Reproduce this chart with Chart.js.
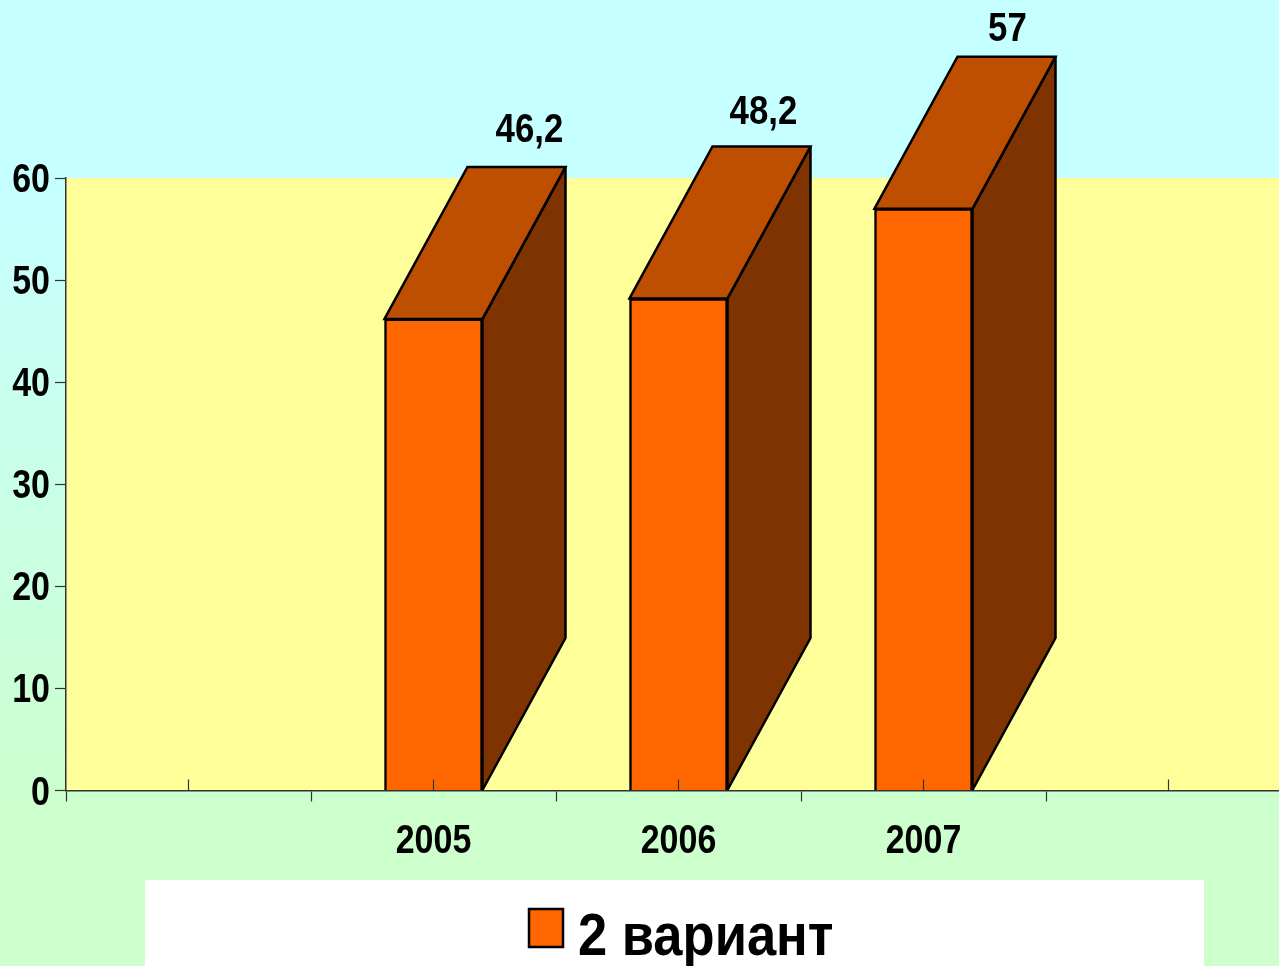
<!DOCTYPE html>
<html>
<head>
<meta charset="utf-8">
<style>
html,body{margin:0;padding:0;width:1279px;height:966px;overflow:hidden;background:linear-gradient(to bottom,#C6FFFF 0%,#C6FFFF 20%,#CCFFCC 85%,#CCFFCC 100%);}
#wrap{position:absolute;left:0;top:0;width:1304px;height:966px;}
</style>
<script src="https://cdn.jsdelivr.net/npm/chart.js@4/dist/chart.umd.min.js"></script>
</head>
<body>
<div id="wrap"><canvas id="c" width="1304" height="966"></canvas></div>
<script>
const categories = ['', '', '', '2005', '', '2006', '', '2007', '', '', ''];
const seriesName = '2 вариант';
const seriesValues = [null, null, null, 46.2, null, 48.2, null, 57, null, null, null];
const yTicks = [0, 10, 20, 30, 40, 50, 60];

const FONT = '"Liberation Sans",Arial,sans-serif';
const DEPTH_X = 83, DEPTH_Y = -152;
const LABEL_NUDGE = {3: [96, -39], 5: [85, -37], 7: [84, -30]};

// The reference face is a narrow bold sans: squeeze text horizontally when painting it.
let textStretch = 0.85;
const canvas = document.getElementById('c');
const rawCtx = canvas.getContext('2d');
const rawFillText = rawCtx.fillText.bind(rawCtx);
rawCtx.fillText = function (text, x, y) {
  this.save();
  this.translate(x, y + (this.textBaseline === 'middle' ? 3 : 0));
  this.scale(textStretch, 1);
  rawFillText(text, 0, 0);
  this.restore();
};

const deco = {
  id: 'deco',
  beforeDatasetsDraw(chart) {
    const {ctx, chartArea: a} = chart;
    ctx.save();
    ctx.globalCompositeOperation = 'destination-over';
    ctx.fillStyle = '#FFFF99';
    ctx.fillRect(a.left, a.top, a.right - a.left, a.bottom - a.top);
    ctx.restore();
  },
  afterDatasetsDraw(chart) {
    const {ctx, scales} = chart;
    const meta = chart.getDatasetMeta(0);
    ctx.save();
    ctx.lineWidth = 2.5;
    ctx.strokeStyle = '#000';
    ctx.lineJoin = 'miter';
    ctx.miterLimit = 2;
    meta.data.forEach((bar, i) => {
      const v = seriesValues[i];
      if (v === null) return;
      const half = bar.width / 2;
      const l = bar.x - half, r = bar.x + half, t = bar.y, b = bar.base;
      // side face
      ctx.beginPath();
      ctx.moveTo(r, t); ctx.lineTo(r + DEPTH_X, t + DEPTH_Y);
      ctx.lineTo(r + DEPTH_X, b + DEPTH_Y); ctx.lineTo(r, b); ctx.closePath();
      ctx.fillStyle = '#7F3300'; ctx.fill(); ctx.stroke();
      // top face
      ctx.beginPath();
      ctx.moveTo(l, t); ctx.lineTo(l + DEPTH_X, t + DEPTH_Y);
      ctx.lineTo(r + DEPTH_X, t + DEPTH_Y); ctx.lineTo(r, t); ctx.closePath();
      ctx.fillStyle = '#BF4F00'; ctx.fill(); ctx.stroke();
      // value label
      const n = LABEL_NUDGE[i];
      ctx.fillStyle = '#000';
      ctx.font = 'bold 41px ' + FONT;
      ctx.textAlign = 'center';
      ctx.textBaseline = 'middle';
      ctx.fillText(String(v).replace('.', ','), bar.x + n[0], t + DEPTH_Y + n[1]);
    });
    // alternate ticks point up into the plot
    const x = scales.x, base = scales.y.getPixelForValue(0);
    ctx.strokeStyle = '#333';
    ctx.lineWidth = 1.2;
    categories.forEach((_, i) => {
      if (i % 2 === 0) return;
      const px = x.getPixelForValue(i);
      ctx.beginPath(); ctx.moveTo(px, base); ctx.lineTo(px, base - 11); ctx.stroke();
    });
    ctx.restore();
  },
  afterDraw(chart) {
    const {ctx} = chart;
    ctx.save();
    ctx.fillStyle = '#FFFFFF';
    ctx.fillRect(145, 880, 1059, 86);
    ctx.fillStyle = '#FF6600';
    ctx.strokeStyle = '#000';
    ctx.lineWidth = 2.5;
    ctx.beginPath(); ctx.rect(529, 909, 34, 38); ctx.fill(); ctx.stroke();
    ctx.fillStyle = '#000';
    ctx.font = 'bold 60px ' + FONT;
    ctx.textAlign = 'left';
    ctx.textBaseline = 'alphabetic';
    textStretch = 0.875;
    ctx.fillText(seriesName, 578, 955);
    textStretch = 0.85;
    ctx.restore();
  }
};

new Chart(canvas, {
  type: 'bar',
  data: {
    labels: categories,
    datasets: [{
      label: seriesName,
      data: seriesValues,
      backgroundColor: '#FF6600',
      borderColor: '#000',
      borderWidth: 2.5,
      barThickness: 98
    }]
  },
  plugins: [deco],
  options: {
    responsive: false,
    animation: false,
    layout: {padding: {top: 178, left: 0, right: 0, bottom: 0}},
    plugins: {legend: {display: false}, tooltip: {enabled: false}},
    scales: {
      x: {
        type: 'category',
        offset: false,
        border: {color: '#333', width: 1.5},
        grid: {
          offset: false,
          drawOnChartArea: false,
          tickLength: 11,
          tickWidth: 1.2,
          tickColor: c => (c.index % 2 === 0 ? '#333' : 'rgba(0,0,0,0)')
        },
        ticks: {
          autoSkip: false, maxRotation: 0, minRotation: 0,
          color: '#000', padding: 13,
          font: {family: FONT, size: 40, weight: 'bold'}
        },
        afterFit(s) { s.height = 175.5; }
      },
      y: {
        min: 0, max: 60,
        border: {color: '#333', width: 1.5},
        grid: {drawOnChartArea: false, tickLength: 11, tickColor: '#333', tickWidth: 1.2},
        ticks: {
          stepSize: 10, color: '#000', padding: 5,
          font: {family: FONT, size: 40, weight: 'bold'},
          callback: v => yTicks.includes(v) ? String(v) : ''
        },
        afterFit(s) { s.width = 66; }
      }
    }
  }
});
</script>
</body>
</html>
